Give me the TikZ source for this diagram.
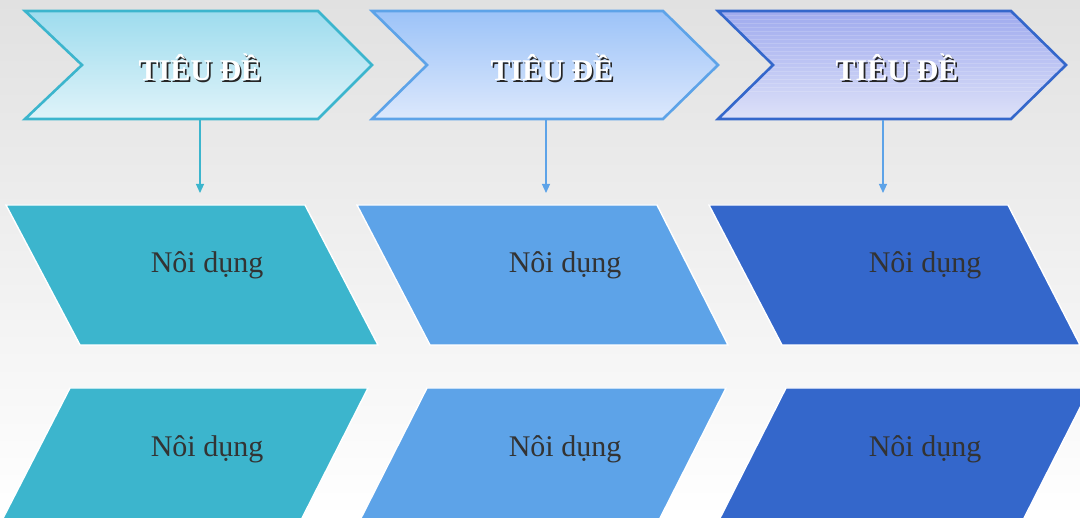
\documentclass[tikz,border=0pt]{standalone}
\usepackage{fontspec}
\setmainfont{Liberation Serif}
\usetikzlibrary{arrows.meta}
\definecolor{bgtop}{HTML}{E1E1E1}
\definecolor{cA}{HTML}{3CB5CD}
\definecolor{cB}{HTML}{5DA3E8}
\definecolor{cC}{HTML}{3467CB}
\definecolor{cAtop}{HTML}{9EDCEE}
\definecolor{cAbot}{HTML}{DFF3F9}
\definecolor{cBtop}{HTML}{9CC3F8}
\definecolor{cBbot}{HTML}{DCE8FC}
\definecolor{cCtop}{HTML}{9FAAEE}
\definecolor{cCbot}{HTML}{DDE1F8}
\definecolor{txt}{HTML}{333333}
\tikzset{
  chev/.style={line width=2.6pt, line join=miter},
  para/.style={draw=white, line width=1.4pt},
  ttl/.style={anchor=base, inner sep=0pt, text=white, font=\fontsize{30}{30}\selectfont\bfseries},
  ttlshadow/.style={anchor=base, inner sep=0pt, text=black!85, font=\fontsize{30}{30}\selectfont\bfseries},
  body/.style={anchor=base, inner sep=0pt, text=txt, font=\fontsize{30}{30}\selectfont},
  conn/.style={line width=1.1pt, -{Triangle[width=8pt,length=9pt]}}
}
\begin{document}
\begin{tikzpicture}[x=1pt,y=-1pt]
\useasboundingbox (0,0) rectangle (1080,518);
\clip (0,0) rectangle (1080,518);
\shade[top color=bgtop, bottom color=white] (0,0) rectangle (1080,518);

% header chevrons
\path[chev, draw=cA, top color=cAtop, bottom color=cAbot]
  (25,11) -- (318,11) -- (372,65) -- (318,119) -- (25,119) -- (82,65) -- cycle;
\path[chev, draw=cB, top color=cBtop, bottom color=cBbot]
  (372,11) -- (663,11) -- (718,65) -- (663,119) -- (372,119) -- (427,65) -- cycle;
\begin{scope}
\clip (718,11) -- (1011,11) -- (1066,65) -- (1011,119) -- (718,119) -- (773,65) -- cycle;
\shade[top color=cCtop, bottom color=cCbot] (718,11) rectangle (1066,119);
\foreach \yy in {16,20,...,92} {
  \draw[white, opacity=0.16, line width=1pt] (718,\yy) -- (1066,\yy);
}
\end{scope}
\path[chev, draw=cC]
  (718,11) -- (1011,11) -- (1066,65) -- (1011,119) -- (718,119) -- (773,65) -- cycle;

% titles
\node[ttlshadow] (ts1) at (201.6,82.6) {TIÊU ĐỀ};
\node[ttl] (t1) at (200,81) {TIÊU ĐỀ};
\node[ttlshadow] (ts2) at (553.6,82.6) {TIÊU ĐỀ};
\node[ttl] (t2) at (552,81) {TIÊU ĐỀ};
\node[ttlshadow] (ts3) at (898.6,82.6) {TIÊU ĐỀ};
\node[ttl] (t3) at (897,81) {TIÊU ĐỀ};

% connectors
\coordinate (b1) at (200,120);
\coordinate (b2) at (546,120);
\coordinate (b3) at (883,120);
\coordinate (e1) at (200,193);
\coordinate (e2) at (546,193);
\coordinate (e3) at (883,193);
\draw[conn, cA] (b1) -- (e1);
\draw[conn, cB] (b2) -- (e2);
\draw[conn, cB] (b3) -- (e3);

% row 1 parallelograms
\path[para, fill=cA] (6,205) -- (305,205) -- (378,345) -- (80,345) -- cycle;
\path[para, fill=cB] (357,205) -- (657,205) -- (728,345) -- (430,345) -- cycle;
\path[para, fill=cC] (709,205) -- (1008,205) -- (1080,345) -- (782,345) -- cycle;
% row 2 parallelograms
\path[para, fill=cA] (70,388) -- (368,388) -- (297,528) -- (-2,528) -- cycle;
\path[para, fill=cB] (427,388) -- (726,388) -- (655,528) -- (356,528) -- cycle;
\path[para, fill=cC] (786,388) -- (1090,388) -- (1019,528) -- (715,528) -- cycle;

% body texts
\node[body] (n11) at (207,273) {Nôi dụng};
\node[body] (n12) at (565,273) {Nôi dụng};
\node[body] (n13) at (925,273) {Nôi dụng};
\node[body] (n21) at (207,457) {Nôi dụng};
\node[body] (n22) at (565,457) {Nôi dụng};
\node[body] (n23) at (925,457) {Nôi dụng};
\end{tikzpicture}
\end{document}
